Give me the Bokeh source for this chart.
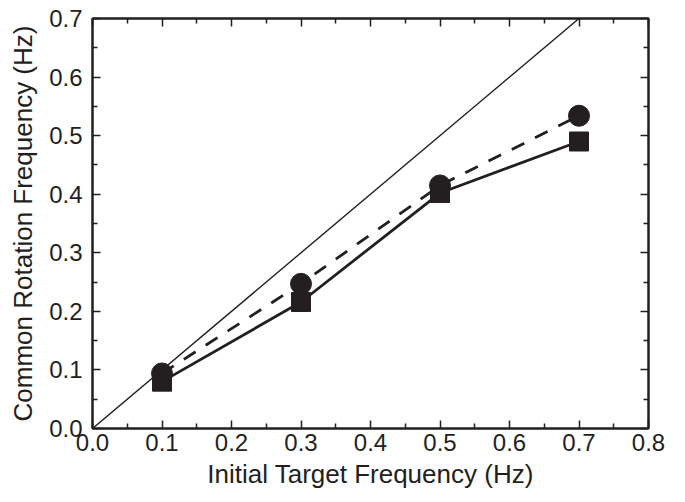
from bokeh.plotting import figure
from bokeh.models import LinearAxis, FixedTicker, PrintfTickFormatter, Range1d, CustomJSTickFormatter
from bokeh.embed import file_html
from bokeh.resources import INLINE

freq = [0.1, 0.3, 0.5, 0.7]
circle_vals = [0.094, 0.247, 0.415, 0.534]
square_vals = [0.080, 0.216, 0.402, 0.490]
diag = [0.0, 0.7]

x_ticks = [0.0, 0.1, 0.2, 0.3, 0.4, 0.5, 0.6, 0.7, 0.8]
x_minor = [0.05, 0.15, 0.25, 0.35, 0.45, 0.55, 0.65, 0.75]
y_ticks = [0.0, 0.1, 0.2, 0.3, 0.4, 0.5, 0.6, 0.7]
y_minor = [0.05, 0.15, 0.25, 0.35, 0.45, 0.55, 0.65]

INK = "#231f20"
FONT = "Liberation Sans"

p = figure(frame_width=556, frame_height=410, output_backend="svg", toolbar_location=None,
           x_range=Range1d(0, 0.8), y_range=Range1d(0, 0.7),
           min_border_left=92, min_border_right=30, min_border_top=18, min_border_bottom=72,
           x_axis_label="Initial Target Frequency (Hz)",
           y_axis_label="Common Rotation Frequency (Hz)")
p.grid.visible = False
p.outline_line_color = INK
p.outline_line_width = 2

p.line(diag, diag, line_color=INK, line_width=1.4)
p.line(freq, square_vals, line_color=INK, line_width=2.8)
p.line(freq, circle_vals, line_color=INK, line_width=2.8, line_dash="14 12")
p.scatter(freq, square_vals, marker="square", size=19, fill_color=INK, line_color=INK)
p.scatter(freq, circle_vals, marker="circle", size=21, fill_color=INK, line_color=INK)

p.add_layout(LinearAxis(), "right")
p.add_layout(LinearAxis(), "above")

for ax in p.axis:
    ax.formatter = PrintfTickFormatter(format="%.1f")
    ax.major_tick_in = 8
    ax.major_tick_out = 0
    ax.minor_tick_in = 5
    ax.minor_tick_out = 0
    ax.axis_line_color = INK
    ax.axis_line_width = 2
    ax.major_tick_line_color = INK
    ax.major_tick_line_width = 1.5
    ax.minor_tick_line_color = INK
    ax.minor_tick_line_width = 1.5
    ax.major_label_text_font = FONT
    ax.major_label_text_font_size = "24px"
    ax.major_label_text_color = INK
    ax.axis_label_text_font = FONT
    ax.axis_label_text_font_size = "26px"
    ax.axis_label_text_font_style = "normal"
    ax.axis_label_text_color = INK

for ax in p.xaxis:
    ax.ticker = FixedTicker(ticks=x_ticks, minor_ticks=x_minor)
for ax in p.yaxis:
    ax.ticker = FixedTicker(ticks=y_ticks, minor_ticks=y_minor)

for ax in p.right + p.above:
    ax.formatter = CustomJSTickFormatter(code="return ''")
    ax.major_label_standoff = 0
    ax.axis_label = None

p.xaxis[0].axis_label_text_font_size = "25.5px"
p.xaxis[0].major_label_standoff = 8
p.yaxis[0].major_label_standoff = 10
p.xaxis[0].axis_label_standoff = 3
p.yaxis[0].axis_label_standoff = 8

open("out.html", "w").write(file_html(p, INLINE))
